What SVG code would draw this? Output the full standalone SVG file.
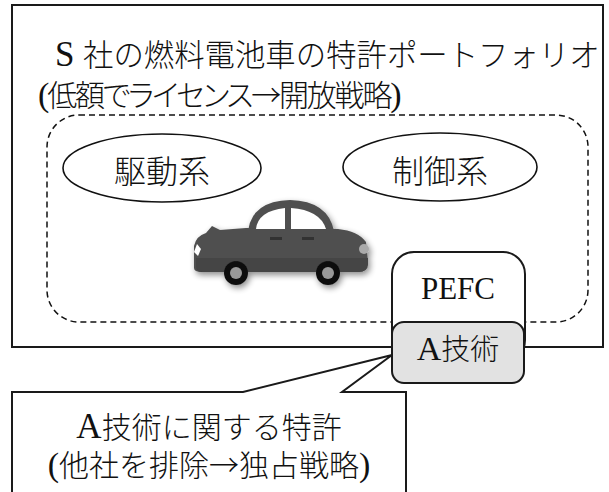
<svg xmlns="http://www.w3.org/2000/svg" width="609" height="492" viewBox="0 0 609 492">
  <style>
    .jp { font-family: "Liberation Serif", "Noto Sans CJK JP", serif; fill: #111; font-weight: 300; }
    .cjk { font-family: "Noto Sans CJK JP", sans-serif; }
    .prop { font-feature-settings: "palt"; letter-spacing: -2.2px; }
    .frame { fill: #fff; stroke: #1a1a1a; stroke-width: 2; }
    .oval { fill: #fff; stroke: #111; stroke-width: 1.6; }
    .area { fill: none; stroke: #111; stroke-width: 1.5; stroke-dasharray: 6 4; }
    .box { stroke: #1a1a1a; stroke-width: 2; }
  </style>
  <defs>
    <filter id="soft" x="-20%" y="-20%" width="140%" height="150%">
      <feGaussianBlur in="SourceAlpha" stdDeviation="3"/>
      <feOffset dx="2" dy="3" result="b"/>
      <feComponentTransfer><feFuncA type="linear" slope="0.45"/></feComponentTransfer>
      <feMerge><feMergeNode/><feMergeNode in="SourceGraphic"/></feMerge>
    </filter>
  </defs>
  <rect width="609" height="492" fill="#fff"/>

  <!-- portfolio frame and heading -->
  <g id="portfolio">
    <rect class="frame" x="12" y="5" width="591" height="342"/>
    <text class="jp" font-size="30.4" y="66"><tspan x="55" font-size="35">S</tspan><tspan x="83">社の燃料電池車の特許ポートフォリオ</tspan></text>
    <text class="jp prop" font-size="30" x="38" y="106"><tspan font-size="34">(</tspan>低額でライセンス<tspan class="cjk">→</tspan>開放戦略<tspan font-size="34">)</tspan></text>
  </g>

  <!-- fuel cell vehicle area -->
  <g id="vehicle-area">
    <rect class="area" x="47" y="115" width="541" height="207" rx="32" ry="32"/>
  </g>

  <g id="drive">
    <ellipse class="oval" cx="162" cy="168" rx="99" ry="34"/>
    <text class="jp" font-size="32" x="162" y="183" text-anchor="middle">駆動系</text>
  </g>

  <g id="control">
    <ellipse class="oval" cx="440" cy="167" rx="97" ry="34"/>
    <text class="jp" font-size="32" x="440" y="183" text-anchor="middle">制御系</text>
  </g>

  <!-- car pictogram -->
  <g id="car" filter="url(#soft)">
    <path fill="#4f4f4f" d="M248,231 Q252,201 290,200 Q328,201 334,231 Z"/>
    <path fill="#4f4f4f" d="M194,268 L194,246 Q196,236 206,233 L212,226 L220,230 L246,228 L338,229 Q358,231 366,242 L368,262 Q368,272 358,272 L202,272 Q194,272 194,268 Z"/>
    <path fill="#fff" d="M256,229 Q258,211 285,208 L285,229 Z"/>
    <path fill="#fff" d="M291,208 Q320,210 326,229 L291,229 Z"/>
    <path fill="#444" d="M196,258 L368,258 L368,264 Q368,272 358,272 L202,272 Q196,272 196,266 Z"/>
    <rect x="270" y="237" width="12" height="3" fill="#333"/>
    <rect x="302" y="237" width="12" height="3" fill="#333"/>
    <circle cx="364" cy="249" r="5" fill="#aaa"/>
    <path fill="#fff" d="M194,252 L197,244 L201,249 L198,256 Z"/>
    <circle cx="236" cy="273" r="12" fill="#111"/>
    <circle cx="236" cy="273" r="6" fill="#999"/>
    <circle cx="328" cy="273" r="12" fill="#111"/>
    <circle cx="328" cy="273" r="6" fill="#999"/>
  </g>

  <g id="pefc">
    <rect class="box" x="392" y="252" width="133" height="110" rx="22" ry="22" fill="#fff"/>
    <text class="jp" font-size="31" x="458" y="299" text-anchor="middle">PEFC</text>
  </g>

  <g id="a-tech">
    <rect class="box" x="392" y="322" width="132" height="61" rx="12" ry="12" fill="#e2e2e2"/>
    <text class="jp" font-size="29" x="458" y="360" text-anchor="middle"><tspan font-size="34">A</tspan>技術</text>
  </g>

  <!-- callout pointing at A技術 -->
  <g id="connectors">
    <path fill="#fff" stroke="#1a1a1a" stroke-width="2" d="M12,500 L12,392 L243,392 L392,355 L342,392 L406,392 L406,500"/>
  </g>

  <g id="patent-note">
    <text class="jp" font-size="30" x="209" y="438" text-anchor="middle"><tspan font-size="35">A</tspan>技術に関する特許</text>
    <text class="jp" font-size="30" x="209" y="476" text-anchor="middle"><tspan font-size="34">(</tspan>他社を排除<tspan class="cjk">→</tspan>独占戦略<tspan font-size="34">)</tspan></text>
  </g>
</svg>
